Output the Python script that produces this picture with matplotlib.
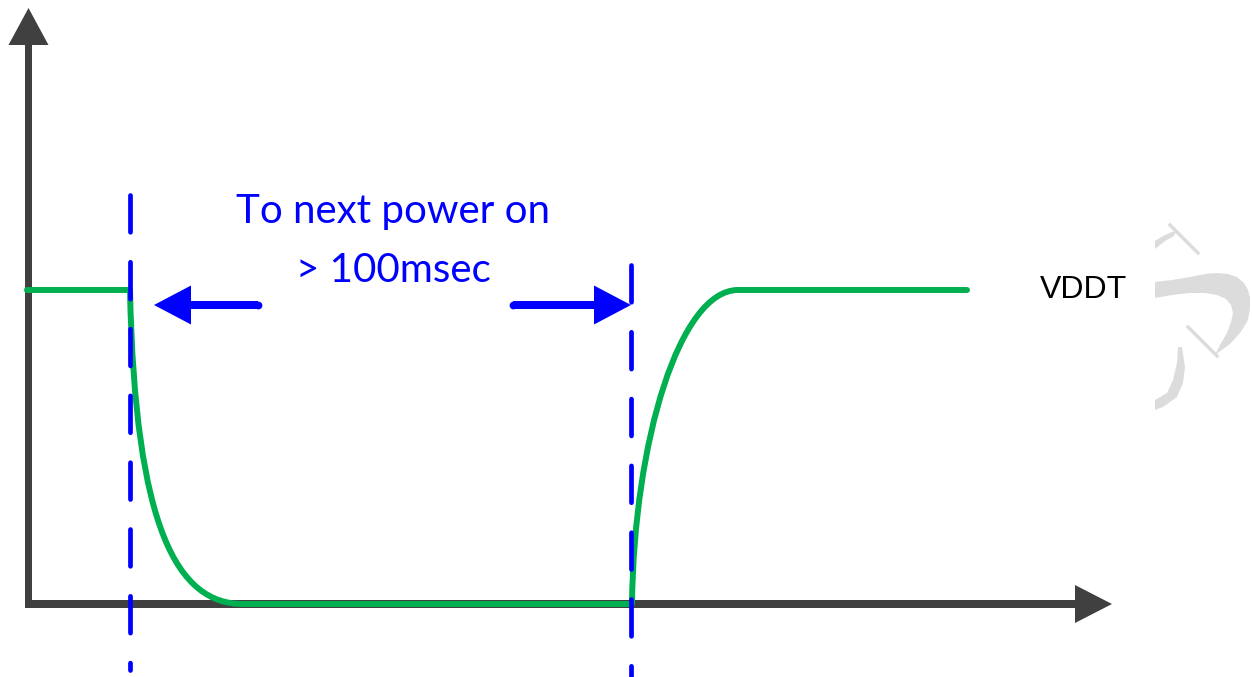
import matplotlib
matplotlib.use("Agg")
import matplotlib.pyplot as plt
from matplotlib.patches import FancyArrow, PathPatch
from matplotlib.path import Path

plt.rcParams['lines.scale_dashes'] = False

W, H = 1252, 677

# everything is in pixel units of the reference, y grows downwards

# VDDT trace: flat high, fall (bezier), flat low, rise (bezier), flat high
vddt_high = 290
vddt_low = 604
high1 = (27, 130)
fall_ctrl = [(135, 530), (178, 604), (243, 604)]
rise_start = 632
rise_ctrl = [(634, 440), (680, 290), (738, 290)]
high2_end = 967

# dashed markers (power off / next power on)
marker_x = [130, 631]
marker_top = [195, 265]
marker_bottom = [670, 677]

# axes origin and arrow tips
origin = (28, 604)
y_tip = 8
x_tip = 1112

# interval arrows
interval_y = 305
left_arrow = (258, 154)    # tail, tip
right_arrow = (513, 631)

label_lines = ["To next power on", "> 100msec"]
label_x = 393
label_baselines = [223, 282]
signal_name = "VDDT"

# faint watermark outlines (right edge)
wm_band = [(1155, 282), (1172, 280), (1190, 277), (1205, 274), (1217, 273), (1228, 274),
           (1237, 277), (1244, 283), (1248, 290), (1250, 298), (1250, 307), (1249, 315),
           (1247, 322), (1240, 333), (1230, 344), (1215, 355), (1220, 345), (1227, 333),
           (1231, 322), (1233, 313), (1231, 305), (1226, 299), (1217, 295), (1205, 293),
           (1190, 293), (1172, 295), (1155, 298)]
wm_hook = [(1155, 241), (1163, 236), (1172, 232), (1176, 231), (1174, 236), (1165, 241),
           (1155, 249)]
wm_arc = [(1182, 347), (1185, 367), (1183, 383), (1177, 397), (1163, 407), (1155, 410),
          (1155, 400), (1167, 393), (1173, 380), (1177, 363), (1178, 347)]
wm_strokes = [[(1170, 225), (1198, 253)], [(1188, 327), (1217, 356)]]

axis_col = '#404040'
green = '#00B050'
blue = '#0000FF'
mark_col = '#DCDCDC'

fig = plt.figure(figsize=(W / 100, H / 100), dpi=100)
ax = fig.add_axes([0, 0, 1, 1])
ax.set_xlim(0, W)
ax.set_ylim(H, 0)
ax.axis('off')

# axes arrows
ax.add_patch(FancyArrow(origin[0] + 0.5, origin[1] + 4, 0, y_tip - origin[1] - 4, width=7,
                        head_width=40, head_length=37, length_includes_head=True,
                        color=axis_col, lw=0, zorder=1))
ax.add_patch(FancyArrow(origin[0] - 3, origin[1], x_tip - origin[0] + 3, 0, width=8,
                        head_width=38, head_length=37, length_includes_head=True,
                        color=axis_col, lw=0, zorder=1))

# green trace
verts = [(high1[0], vddt_high), (high1[1], vddt_high)] + fall_ctrl + \
        [(rise_start, vddt_low)] + rise_ctrl + [(high2_end, vddt_high)]
codes = [Path.MOVETO, Path.LINETO] + [Path.CURVE4] * 3 + [Path.LINETO] + \
        [Path.CURVE4] * 3 + [Path.LINETO]
ax.add_patch(PathPatch(Path(verts, codes), fill=False, edgecolor=green, lw=4.3,
                       capstyle='round', joinstyle='round', zorder=2))

# blue dashed verticals
for mx, t, b in zip(marker_x, marker_top, marker_bottom):
    ax.plot([mx, mx], [t, b], color=blue, lw=3.4, dashes=(26.5, 21.6),
            dash_capstyle='round', zorder=3)

# interval arrows
for tail, tip in [left_arrow, right_arrow]:
    ax.add_patch(FancyArrow(tail, interval_y, tip - tail, 0, width=8,
                            head_width=39, head_length=37, length_includes_head=True,
                            color=blue, lw=0, zorder=3))
    ax.plot([tail], [interval_y], 'o', ms=5.6, color=blue, mew=0, zorder=3)

for txt, yb in zip(label_lines, label_baselines):
    ax.text(label_x, yb, txt, color=blue, fontsize=29, family='Lato',
            ha='center', va='baseline')

ax.text(1040, 298, signal_name, color='black', fontsize=23, family='Liberation Sans',
        ha='left', va='baseline')

# watermark
for shape in [wm_band, wm_hook, wm_arc]:
    xs, ys = zip(*shape)
    ax.fill(xs, ys, color=mark_col, lw=0, zorder=0)
for s in wm_strokes:
    xs, ys = zip(*s)
    ax.plot(xs, ys, color=mark_col, lw=2.5, zorder=0)

fig.savefig('out.png', dpi=100)
